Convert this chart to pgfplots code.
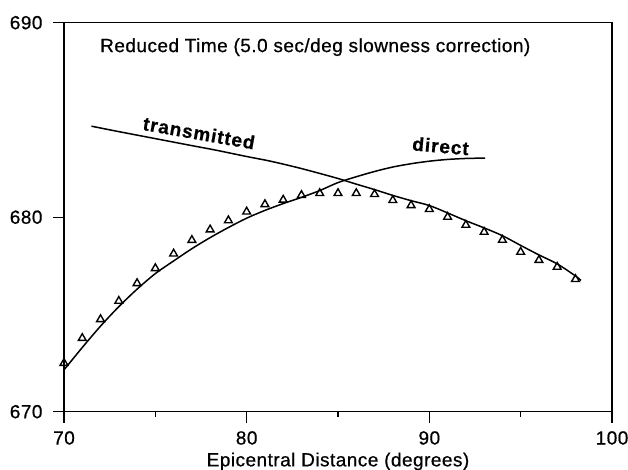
\documentclass[border=0pt]{standalone}
\usepackage{fontspec}
\setmainfont{Liberation Sans}[LetterSpace=2.5,FakeBold=0.6]
\newfontfamily\lblfont{Liberation Sans Bold}[LetterSpace=5,FakeBold=0.6]
\usepackage{pgfplots}
\pgfplotsset{compat=1.18}

\pgfplotstableread{
x y
70 672.50
71 673.78
72 674.75
73 675.69
74 676.60
75 677.37
76 678.12
77 678.82
78 679.36
79 679.83
80 680.28
81 680.66
82 680.89
83 681.13
84 681.23
85 681.23
86 681.23
87 681.18
88 680.87
89 680.61
90 680.41
91 680.01
92 679.60
93 679.24
94 678.83
95 678.21
96 677.79
97 677.44
98 676.81
}\obsdata

\pgfplotstableread{
x y
70 672.15
71 673.3
72 674.4
73 675.4
74 676.3
75 677.1
76 677.75
77 678.38
78 678.95
79 679.47
80 679.95
81 680.35
82 680.7
83 681.02
84 681.37
85 681.78
86 682.08
87 682.35
88 682.58
89 682.75
90 682.88
91 682.97
92 683.02
93.06 683.04
}\directdata

\pgfplotstableread{
x y
71.5 684.68
73 684.40
75 684.04
77 683.68
78.3 683.45
80 683.12
81.1 682.92
82 682.73
83 682.5
84 682.25
85 681.99
86 681.7
87 681.42
88 681.12
89 680.85
90 680.6
91 680.22
92 679.82
93 679.45
94 679.05
95 678.55
96 678.06
97 677.6
98 676.98
98.3 676.75
}\transdata

\begin{document}
\begin{tikzpicture}
\begin{axis}[
  width=548pt, height=389pt, scale only axis,
  xmin=70, xmax=100, ymin=670, ymax=690,
  xtick={70,80,90,100}, ytick={670,680,690},
  minor xtick={75,85,95},
  tick align=outside, xtick pos=left, ytick pos=left,
  major tick length=11pt, minor tick length=5pt,
  axis line style={line width=1.3pt},
  tick style={line width=1.2pt, black},
  minor tick style={line width=1.2pt, black},
  x tick label style={font=\fontsize{19}{21}\selectfont, yshift=-5pt},
  y tick label style={font=\fontsize{19}{21}\selectfont, xshift=-7pt},
  /pgf/number format/assume math mode=true,
  /pgf/number format/1000 sep={},
  xlabel={Epicentral Distance (degrees)},
  xlabel style={font=\fontsize{19}{21}\selectfont, yshift=-1pt},
  clip=false,
]
\addplot[black, line width=1.5pt, smooth, tension=0.5] table[x=x,y=y] {\directdata};
\addplot[black, line width=1.5pt, smooth, tension=0.5] table[x=x,y=y] {\transdata};
\addplot[only marks, mark=triangle, mark size=4.5pt, mark options={solid, black, line width=1.4pt}] table[x=x,y=y] {\obsdata};
\node[anchor=base west, inner sep=0pt, font=\fontsize{19}{21}\selectfont] at (axis cs:71.97,688.49) {Reduced Time (5.0 sec/deg slowness correction)};
\node[font=\lblfont\fontsize{19}{21}\selectfont, rotate=-10] at (axis cs:77.39,684.33) {transmitted};
\node[font=\lblfont\fontsize{19}{21}\selectfont, rotate=-5] at (axis cs:90.62,683.66) {direct};
\end{axis}
\path (current axis.south west) ++(-64pt,-57.3pt) coordinate (bl);
\path (current axis.north east) ++(16pt,22.7pt) coordinate (tr);
\pgfresetboundingbox
\useasboundingbox (bl) rectangle (tr);
\end{tikzpicture}
\end{document}
